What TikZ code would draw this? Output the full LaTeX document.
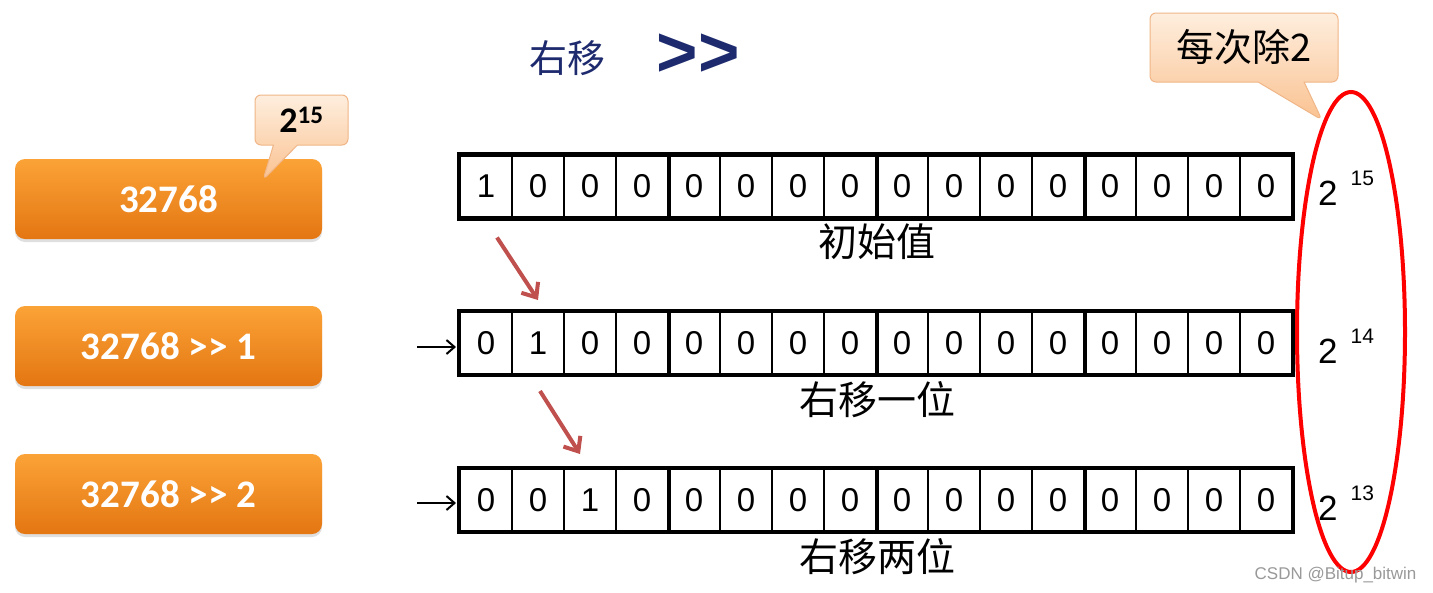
\documentclass[tikz,border=0pt]{standalone}
\usepackage{fontspec}
\setmainfont{Liberation Sans}
\newfontfamily\cjk{Noto Sans CJK SC}
\newfontfamily\btnfont{Carlito}
\usetikzlibrary{arrows.meta,positioning,shapes.callouts,shadows}
\definecolor{btntop}{RGB}{251,163,55}
\definecolor{btnbot}{RGB}{228,118,18}
\definecolor{peachtop}{RGB}{254,238,222}
\definecolor{peachbot}{RGB}{250,194,145}
\definecolor{peachline}{RGB}{240,182,135}
\definecolor{navy}{RGB}{30,42,110}
\definecolor{shiftred}{RGB}{192,80,77}
\begin{document}
\begin{tikzpicture}[x=1pt, y=-1pt,
      btn/.style={rounded corners=10pt, minimum width=307pt, minimum height=80pt, inner sep=0pt,
        top color=btntop, bottom color=btnbot, text=white,
        font=\btnfont\bfseries\fontsize{39}{40}\selectfont,
        drop shadow={shadow xshift=0pt, shadow yshift=-3pt, opacity=0.25}},
      tip/.style={rectangle callout, rounded corners=6pt, draw=peachline, line width=1pt,
        top color=peachtop, bottom color=peachbot, inner sep=0pt},
      bitcell/.style={draw, line width=2pt, minimum width=52pt, minimum height=62pt, inner sep=0pt,
        font=\fontsize{33}{33}\selectfont},
      rowlabel/.style={font=\cjk\fontsize{39}{40}\selectfont, inner sep=1pt},
      power/.style={anchor=base west, inner sep=0pt, font=\fontsize{35}{35}\selectfont},
      shiftarr/.style={-{Straight Barb[length=12pt, width=20pt]}, draw=shiftred, line width=4pt},
      feed/.style={-{Straight Barb[length=8pt, width=14pt]}, line width=2pt, shorten >=3pt}]
    % one unit = one pixel of the 1433 x 592 reference, y runs downwards
    \fill[white] (0,0) rectangle (1433,592);
    \useasboundingbox (0,0) rectangle (1433,592);
    % title
    \node[font=\cjk\fontsize{38}{40}\selectfont, text=navy] (ttl) at (567,58) {右移};
    \node[font=\bfseries\fontsize{71}{71}\selectfont, text=navy] (op) at (698,55) {>{}>};
    % orange value buttons
    \node[btn] (v0) at (168.5,199) {32768};
    \node[btn] (v1) at (168.5,346) {32768 >{}> 1};
    \node[btn] (v2) at (168.5,494) {32768 >{}> 2};
    \node[tip, minimum width=93pt, minimum height=50pt, callout absolute pointer={(263,180)},
      callout pointer width=24pt,
      font=\btnfont\bfseries\fontsize{36}{36}\selectfont] (c15) at (301.5,120) {2\textsuperscript{15}};
    % bit rows, 16 cells of 52 px, thick line every 4 cells
    \foreach \row/\ypos/\one in {1/186.5/1, 2/343/2, 3/500/3} {
      \foreach \i in {1,...,16} {
        \pgfmathtruncatemacro\bit{\i==\one ? 1 : 0}
        \node[bitcell] (r\row-\i) at ({434+52*\i},\ypos) {\bit};
      }
      \draw[line width=4.5pt] (r\row-1.north west) rectangle (r\row-16.south east);
      \foreach \g in {4,8,12}
        \draw[line width=4pt] (r\row-\g.north east) -- (r\row-\g.south east);
    }
    \node[rowlabel, below=4pt of r1-8.south east] (lbl1) {初始值};
    \node[rowlabel, below=5pt of r2-8.south east] (lbl2) {右移一位};
    \node[rowlabel, below=5pt of r3-8.south east] (lbl3) {右移两位};
    % zeros fed in from the left
    \coordinate (in2) at (417,347);
    \coordinate (in3) at (417,503);
    \draw[feed] (in2) -- (in2 -| r2-1.west);
    \draw[feed] (in3) -- (in3 -| r3-1.west);
    % the 1 moves one cell right
    \draw[shiftarr] ([xshift=11pt, yshift=-19pt]r1-1.south) -- ([yshift=11pt]r2-2.north);
    \draw[shiftarr] ([xshift=2pt, yshift=-16pt]r2-2.south) -- ([xshift=-10pt, yshift=14pt]r3-3.north);
    % powers of two
    \node[power] (p15) at (1318,205) {2\hspace{13pt}\raisebox{20pt}{\fontsize{21}{21}\selectfont 15}};
    \node[power] (p14) at (1318,363) {2\hspace{13pt}\raisebox{20pt}{\fontsize{21}{21}\selectfont 14}};
    \node[power] (p13) at (1318,520) {2\hspace{13pt}\raisebox{20pt}{\fontsize{21}{21}\selectfont 13}};
    \draw[red, line width=4pt] (1351,332) ellipse [x radius=54pt, y radius=240pt];
    \node[tip, minimum width=188pt, minimum height=69pt, callout absolute pointer={(1322,120)},
      callout pointer width=46pt,
      font=\cjk\fontsize{38}{40}\selectfont] (halve) at (1244,47.5) {每次除2};
    \node[anchor=east, text=gray!80, font=\fontsize{17}{17}\selectfont] (mark) at (1420,575) {CSDN @Bitup\_bitwin};
  \end{tikzpicture}
\end{document}
